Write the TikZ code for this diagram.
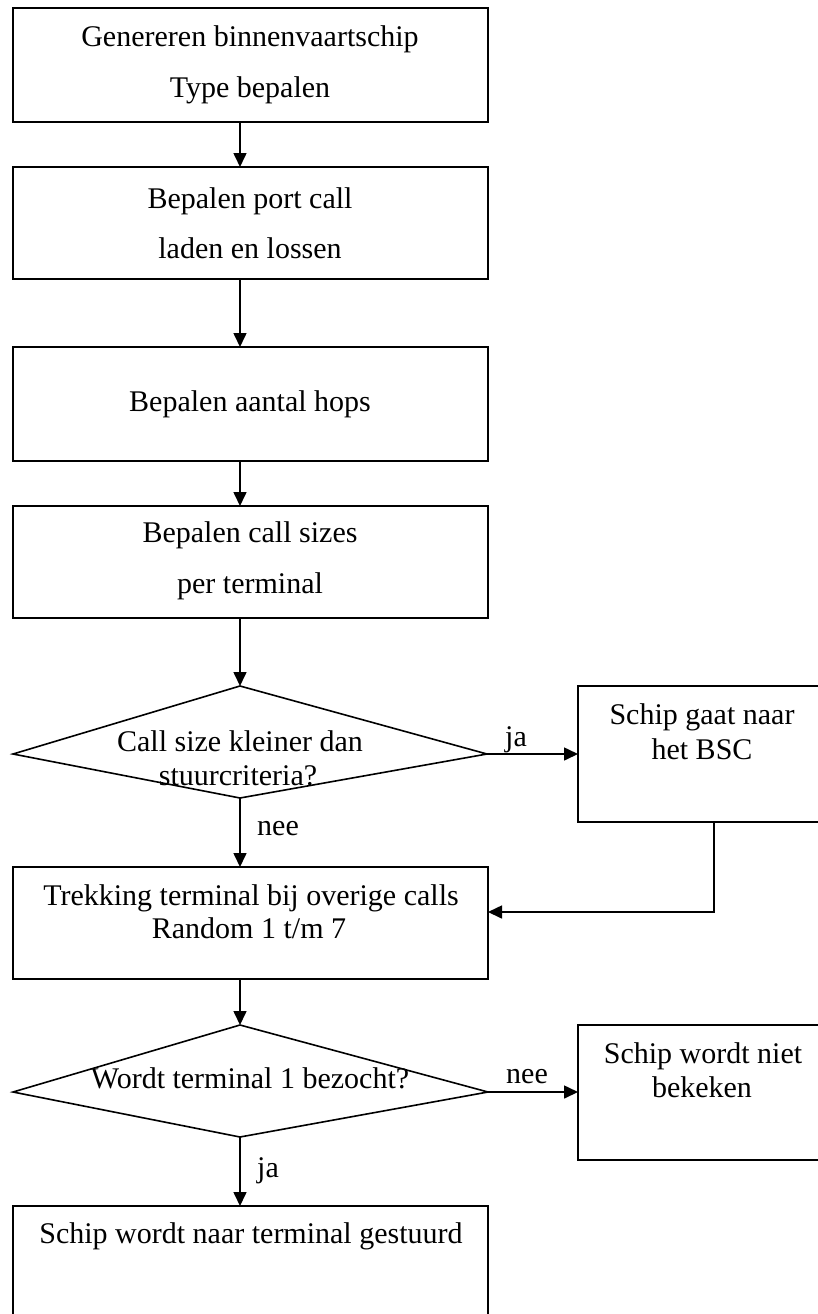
\documentclass[tikz,border=0pt]{standalone}
\usepackage{fontspec}
\setmainfont{Liberation Serif}
\usetikzlibrary{arrows.meta}
\begin{document}
\begin{tikzpicture}[x=1pt,y=-1pt,
  font=\fontsize{30}{36}\selectfont,
  line width=1.6pt,
  box/.style={draw, line width=1.6pt, rectangle, inner sep=0pt, outer sep=0pt},
  txt/.style={anchor=base, inner sep=0pt},
  arr/.style={draw, line width=1.6pt, -{Triangle[length=14pt,width=13pt]}}]
\useasboundingbox (0,0) rectangle (818,1314);
\clip (0,0) rectangle (818,1314);
\coordinate (sx) at (240,0);
\coordinate (fx) at (714,0);
% boxes
\node[box, minimum width=475pt, minimum height=114pt] (b1) at (250.5,65) {};
\node[box, minimum width=475pt, minimum height=112pt] (b2) at (250.5,223) {};
\node[box, minimum width=475pt, minimum height=114pt] (b3) at (250.5,404) {};
\node[box, minimum width=475pt, minimum height=112pt] (b4) at (250.5,562) {};
\node[box, minimum width=248pt, minimum height=136pt] (r1) at (702,754) {};
\node[box, minimum width=475pt, minimum height=112pt] (b5) at (250.5,923) {};
\node[box, minimum width=248pt, minimum height=135pt] (r2) at (702,1092.5) {};
\node[box, minimum width=475pt, minimum height=124pt] (b6) at (250.5,1268) {};
% diamonds
\coordinate (d1t) at (240,686);
\coordinate (d1r) at (487,754);
\coordinate (d1b) at (240,798);
\coordinate (d1l) at (13,754);
\draw (d1t) -- (d1r) -- (d1b) -- (d1l) -- cycle;
\coordinate (d2t) at (240,1025);
\coordinate (d2r) at (488,1092);
\coordinate (d2b) at (240,1137);
\coordinate (d2l) at (13,1092);
\draw (d2t) -- (d2r) -- (d2b) -- (d2l) -- cycle;
% texts
\node[txt] (t1a) at (250,47) {Genereren binnenvaartschip};
\node[txt] (t1b) at (250,97) {Type bepalen};
\node[txt] (t2a) at (250,208) {Bepalen port call};
\node[txt] (t2b) at (250,258) {laden en lossen};
\node[txt] (t3) at (250,411) {Bepalen aantal hops};
\node[txt] (t4a) at (250,542) {Bepalen call sizes};
\node[txt] (t4b) at (250,593) {per terminal};
\node[txt] (td1a) at (240,751) {Call size kleiner dan};
\node[txt] (td1b) at (238,785) {stuurcriteria?};
\node[txt] (tr1a) at (702,724) {Schip gaat naar};
\node[txt] (tr1b) at (702,759) {het BSC};
\node[txt] (t5a) at (251,905) {Trekking terminal bij overige calls};
\node[txt] (t5b) at (249,938) {Random 1 t/m 7};
\node[txt] (td2) at (250,1088) {Wordt terminal 1 bezocht?};
\node[txt] (tr2a) at (703,1063) {Schip wordt niet};
\node[txt] (tr2b) at (702,1097) {bekeken};
\node[txt] (t6) at (251,1243) {Schip wordt naar terminal gestuurd};
% edge labels
\node[txt] (lja1) at (516,746) {ja};
\node[txt] (lnee1) at (278,835) {nee};
\node[txt] (lnee2) at (527,1083) {nee};
\node[txt] (lja2) at (268,1177) {ja};
% connectors
\draw[arr] (b1.south -| sx) -- (b2.north -| sx);
\draw[arr] (b2.south -| sx) -- (b3.north -| sx);
\draw[arr] (b3.south -| sx) -- (b4.north -| sx);
\draw[arr] (b4.south -| sx) -- (d1t);
\draw[arr] (d1r) -- (r1.west |- d1r);
\draw[arr] (d1b) -- (b5.north -| sx);
\coordinate (fb) at (714,912);
\draw[arr] (r1.south -| fx) -- (fb) -- (b5.east |- fb);
\draw[arr] (b5.south -| sx) -- (d2t);
\draw[arr] (d2r) -- (r2.west |- d2r);
\draw[arr] (d2b) -- (b6.north -| sx);
\end{tikzpicture}
\end{document}
